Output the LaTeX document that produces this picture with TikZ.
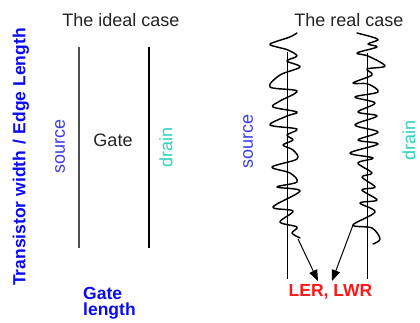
\documentclass[tikz,border=0pt]{standalone}
\usepackage{fontspec}
\setmainfont{Liberation Sans}
\usetikzlibrary{arrows.meta}
\definecolor{srcblue}{RGB}{60,60,235}
\definecolor{drainteal}{RGB}{45,212,185}
\definecolor{axisblue}{RGB}{10,10,245}
\definecolor{lerred}{RGB}{250,25,25}
\definecolor{titlegray}{RGB}{35,35,35}
\definecolor{linegray}{RGB}{80,80,80}

\begin{document}
\begin{tikzpicture}[x=1pt,y=-1pt,
  title/.style={font=\fontsize{18}{20}\selectfont, text=titlegray, inner sep=0pt},
  terminal/.style={font=\fontsize{18}{20}\selectfont, rotate=90, inner sep=0pt},
  srclabel/.style={terminal, text=srcblue},
  drainlabel/.style={terminal, text=drainteal},
  axislabel/.style={font=\bfseries\fontsize{17.5}{19}\selectfont, text=axisblue, inner sep=0pt},
  redlabel/.style={font=\bfseries\fontsize{17.5}{19}\selectfont, text=lerred, inner sep=0pt},
  idealsrc/.style={draw=linegray, line width=1.2pt},
  idealdrn/.style={draw=black, line width=1.8pt},
  realline/.style={draw=black, line width=1pt},
  edgeline/.style={draw=black, line width=1.45pt, line join=round, line cap=round},
  pointer/.style={draw=black, line width=1pt, -{Triangle[length=11pt,width=8.5pt]}}
]
\useasboundingbox (0,0) rectangle (420,322);

% vertical axis label
\node[axislabel, rotate=90] (axis) at (21,157) {Transistor width\,\,/\,\,Edge Length};

% ideal transistor
\node[title] (ideal) at (121,20) {The ideal case};
\draw[idealsrc] (79,47) -- (79,248);
\draw[idealdrn] (149,47) -- (149,248);
\node[srclabel] (src1) at (60,146) {source};
\node[title] (gate) at (113,140) {Gate};
\node[drainlabel] (drn1) at (166,147) {drain};
\node[axislabel, anchor=base west] (gl1) at (83,299) {Gate};
\node[axislabel, anchor=base west] (gl2) at (83,315) {length};

% real transistor
\node[title] (real) at (349,20) {The real case};
\node[srclabel] (src2) at (248,141) {source};
\node[drainlabel] (drn2) at (409,140) {drain};
\draw[realline] (287,52) -- (287,279);
\draw[realline] (367,53) -- (367,279);

% rough source edge
\draw[edgeline] plot[smooth, tension=0.55] coordinates {
  (297,33) (292,36) (287,38) (270,44) (277,47) (288,50) (297,56) (287,61)
  (300,67) (280,75) (270,87) (297,91) (280,101) (273,107) (297,112) (287,116)
  (270,125) (297,129) (287,135) (293,140) (283,145) (293,150) (297,159)
  (272,167) (290,173) (297,182) (277,187) (300,191) (273,207) (293,211)
  (280,222) (297,227) (292,233) (300,238)};
% rough drain edge
\draw[edgeline] plot[smooth, tension=0.55] coordinates {
  (357,33) (372,37) (378,40) (368,44) (377,47) (357,53) (368,56) (385,66)
  (367,69) (372,75) (353,83) (368,84) (378,92) (355,97) (375,103) (358,112)
  (377,116) (355,125) (378,132) (358,140) (378,144) (350,153) (373,158)
  (358,163) (372,173) (362,177) (375,187) (362,190) (377,200) (360,203)
  (375,212) (353,225) (372,228) (380,239) (373,244)};

\node[redlabel, anchor=base] (ler) at (330.5,296) {LER, LWR};
\coordinate (lstart) at (298,239);
\coordinate (rstart) at (353,225);
\coordinate (ltip) at (318,281);
\coordinate (rtip) at (332,281);
\draw[pointer] (lstart) -- (ltip);
\draw[pointer] (rstart) -- (rtip);
\end{tikzpicture}
\end{document}
